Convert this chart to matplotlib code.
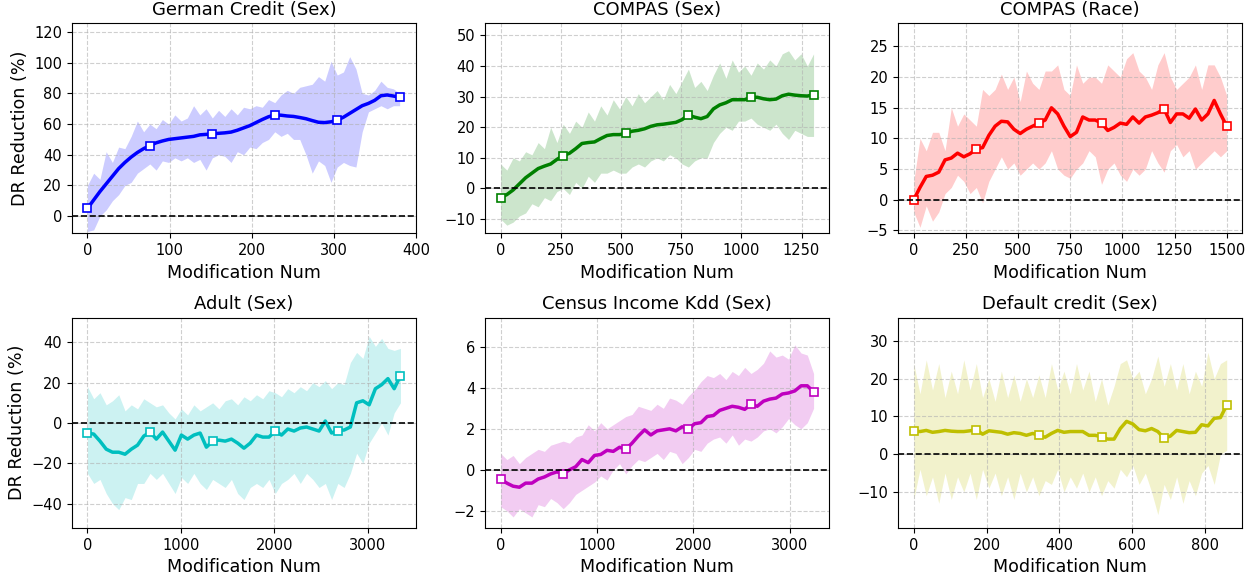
import numpy as np
import matplotlib
matplotlib.use("Agg")
import matplotlib.pyplot as plt

# ---- data (51 samples per panel, markers every 10th) ----
titles = ["German Credit (Sex)", "COMPAS (Sex)", "COMPAS (Race)",
          "Adult (Sex)", "Census Income Kdd (Sex)", "Default credit (Sex)"]
colors = ["b", "g", "r", "c", "m", "y"]
n_mods = [380, 1300, 1500, 3350, 3250, 860]

german_mean = [5, 10.5, 16, 21, 26, 31, 35, 38.5, 41.5, 44, 46, 47.8, 49, 50, 50.5, 51, 51.5, 52, 53, 53.3,
               53.7, 54, 54.3, 54.8, 56, 57.5, 59, 61, 63, 64.8, 66, 65.8, 65.3, 65, 64.3, 63.5, 62.3, 61.2,
               61, 61.5, 62.5, 64.5, 67, 69.5, 72, 73.5, 75.5, 78.5, 79, 78.3, 77.5]
german_hi = [20, 28, 24, 42, 35, 45, 44, 52, 62, 55, 60, 57, 63, 60, 66, 62, 64, 72, 66, 70,
             64, 69, 65, 70, 66, 71, 70, 72, 71, 76, 74, 79, 82, 80, 84, 85, 86, 91, 88, 101,
             92, 94, 104, 96, 80, 79, 82, 88, 84, 83, 80]
german_lo = [-10, -9, 0, 4, 10, 14, 20, 22, 28, 31, 34, 30, 36, 35, 38, 36, 38, 35, 37, 30,
             38, 40, 39, 35, 42, 40, 45, 44, 48, 50, 55, 52, 54, 50, 50, 40, 28, 36, 33, 22,
             32, 35, 33, 32, 55, 68, 70, 72, 70, 72, 72]

compas_sex_mean = [-3, -2, -0.5, 1.5, 3.5, 5, 6.5, 7.3, 8, 9.5, 10.7, 11.5, 13, 14.7, 15, 15.2, 16.3, 17.3,
                   17.6, 17.6, 18, 18.7, 19, 19.5, 20.3, 20.8, 21, 21.3, 21.6, 22.5, 24, 23.3, 22.8, 23.5,
                   26, 27.3, 28, 29, 29, 29, 29.8, 29.8, 29.3, 29, 29.2, 30.3, 30.8, 30.5, 30.3, 30.2, 30.6]
compas_sex_hi = [8, 6, 10, 9, 12, 11, 15, 13, 20, 15, 21, 18, 22, 20, 25, 22, 27, 24, 29, 26,
                 30, 27, 31, 28, 30, 32, 29, 34, 31, 35, 39, 33, 35, 32, 37, 41, 36, 42, 38, 40,
                 37, 41, 39, 42, 40, 44, 45, 42, 44, 40, 44]
compas_sex_lo = [-10, -12, -11, -9, -8, -5, -6, -3, -4, -1, 0, -2, 2, 0, 4, 2, 5, 5, 6, 5,
                 5, 7, 8, 7, 9, 10, 9, 11, 10, 8, 7, 9, 10, 10, 15, 18, 20, 19, 22, 22,
                 23, 21, 20, 19, 21, 18, 16, 19, 18, 17, 17]

compas_race_mean = [0, 2, 3.8, 4, 4.5, 6.5, 6.8, 7.6, 7, 7.5, 8.3, 8.5, 10.5, 12, 12.8, 12.7, 11.5, 10.8,
                    11.5, 12, 12.5, 13, 15, 14, 12, 10.3, 11, 13.5, 13, 13, 12.5, 11.3, 11.8, 12.5, 12.3,
                    13.5, 12.5, 13.5, 13.8, 14.2, 14.8, 12.6, 14, 14, 13.3, 14.8, 13, 14, 16.2, 14, 12]
compas_race_hi = [3, 10, 8, 11, 11, 8, 15, 12, 14, 13, 12, 18, 17, 18, 20.5, 18, 20, 16, 21, 19,
                  18, 21, 21, 22, 18, 17, 22, 19, 20, 20, 19, 22, 21, 20, 23, 24, 21, 20, 18, 22,
                  24, 20, 18, 19, 20, 22, 18, 22, 22, 20, 17]
compas_race_lo = [-2, -4.5, -1, -3.5, -2, 1, 2, 4, 3, 1, 2, -0.5, 3, 5, 7, 5, 6, 4, 5, 6,
                  5, 6, 8, 5, 4, 3.5, 5, 6, 8, 7, 2.5, 5, 6, 4, 3, 5, 4, 5, 8, 6,
                  4.5, 8, 9, 7, 8, 5, 6, 7, 8, 7, 8]

adult_mean = [-5, -5.5, -9, -13, -14.5, -14.5, -15.5, -13, -11, -6.5, -4.5, -8, -4.5, -9, -13.5, -6, -8,
              -6, -5, -12, -9, -8.5, -9, -8, -10, -12.5, -10, -6, -7, -7, -4, -6, -3, -4, -2.5, -2, -3,
              -4, 1, -5, -3.8, -3.5, -2, 10, 11, 9, 17, 19, 22, 17, 23.5]
adult_hi = [18, 12, 15, 9, 11, 14, 6, 9, 7, 12, 10, 8, 9, 5, 2, 7, 4, 9, 6, 8,
            10, 7, 11, 12, 9, 13, 11, 14, 12, 16, 15, 13, 17, 15, 18, 16, 20, 18, 21, 17,
            20, 19, 30, 35, 32, 43, 38, 42, 37, 36, 37]
adult_lo = [-25, -30, -28, -35, -40, -43, -37, -38, -30, -30, -25, -28, -25, -30, -35, -27, -30, -25, -30, -33,
            -28, -30, -32, -28, -35, -38, -32, -30, -32, -28, -35, -30, -28, -25, -30, -25, -28, -32, -30, -38,
            -30, -32, -25, -15, -20, -10, -5, 0, -6, 5, 10]

census_mean = [-0.45, -0.65, -0.8, -0.85, -0.65, -0.65, -0.45, -0.35, -0.2, -0.1, -0.2, 0, 0.15, 0.5, 0.35,
               0.7, 0.75, 0.95, 0.9, 1.1, 1.0, 1.3, 1.65, 1.95, 1.7, 1.9, 1.95, 2.0, 1.9, 2.1, 2.0, 2.25,
               2.3, 2.6, 2.65, 2.9, 3.0, 3.1, 3.05, 2.95, 3.2, 3.1, 3.35, 3.45, 3.5, 3.7, 3.75, 3.85, 4.1,
               4.1, 3.8]
census_hi = [0.8, 0.5, 0.7, 0.3, 0.6, 0.8, 1.0, 0.9, 1.2, 1.3, 1.4, 1.3, 1.6, 1.7, 2.2, 1.9, 2.3, 2.0, 2.2, 2.4,
             2.6, 2.7, 3.1, 3.0, 2.9, 3.2, 3.0, 3.5, 3.4, 3.2, 3.6, 3.9, 4.3, 4.6, 4.5, 4.7, 4.4, 4.8, 4.6, 5.0,
             4.7, 4.9, 5.2, 5.8, 5.5, 5.6, 5.4, 6.1, 5.7, 5.6, 4.7]
census_lo = [-1.8, -2.0, -2.3, -1.9, -2.1, -2.3, -1.7, -1.8, -1.4, -1.6, -1.9, -1.6, -1.2, -1.0, -0.8, -0.6, -0.3,
             -0.5, 0.0, 0.3, -0.2, 0.2, 0.5, 0.4, 0.6, 0.8, 0.5, 0.9, 0.8, 0.3, 0.6, 1.0, 0.9, 1.3, 1.5, 1.6,
             1.3, 1.7, 1.2, 1.5, 1.4, 1.6, 1.9, 2.0, 1.8, 2.1, 2.5, 2.2, 2.0, 2.3, 3.0]

default_mean = [6.2, 6.0, 6.3, 5.8, 6.0, 6.3, 6.1, 6.0, 6.0, 6.2, 6.5, 5.3, 6.2, 6.0, 5.8, 5.3, 5.7, 5.5, 5.0,
                5.5, 5.0, 4.5, 5.5, 6.3, 5.8, 6.0, 6.0, 6.0, 5.0, 5.0, 4.6, 4.0, 4.0, 6.8, 8.7, 8.0, 6.5,
                6.2, 6.8, 6.0, 4.2, 4.8, 6.3, 6.0, 5.7, 5.8, 7.8, 7.5, 9.5, 9.7, 13.0]
default_hi = [24, 16, 25, 17, 24, 15, 22, 16, 25, 17, 24, 15, 20, 14, 22, 15, 21, 14, 20, 15,
              21, 15, 24, 17, 22, 16, 24, 17, 22, 14, 20, 13, 18, 24, 25, 20, 22, 16, 20, 26,
              18, 24, 17, 24, 16, 22, 18, 27, 20, 24, 25]
default_lo = [-12, -4, -11, -6, -13, -5, -12, -6, -10, -5, -12, -4, -9, -5, -11, -6, -12, -5, -10, -6,
              -11, -7, -8, -4, -10, -6, -9, -5, -10, -6, -11, -7, -9, -4, -6, -3, -8, -5, -10, -16,
              -8, -12, -6, -13, -7, -11, -5, -3, -8, 0, 1]

means = [german_mean, compas_sex_mean, compas_race_mean, adult_mean, census_mean, default_mean]
highs = [german_hi, compas_sex_hi, compas_race_hi, adult_hi, census_hi, default_hi]
lows = [german_lo, compas_sex_lo, compas_race_lo, adult_lo, census_lo, default_lo]

ylims = [(-11.3, 125.8), (-14.7, 54), (-5.5, 28.8), (-52, 52.3), (-2.83, 7.43), (-19.5, 36.2)]
yticks = [np.arange(0, 121, 20), np.arange(-10, 51, 10), np.arange(-5, 26, 5),
          np.arange(-40, 41, 20), np.arange(-2, 7, 2), np.arange(-10, 31, 10)]
xticks = [np.arange(0, 401, 100), np.arange(0, 1251, 250), np.arange(0, 1501, 250),
          np.arange(0, 3001, 1000), np.arange(0, 3001, 1000), np.arange(0, 801, 200)]

fig, axes = plt.subplots(2, 3, figsize=(12.6, 5.8), dpi=100)
fig.subplots_adjust(left=0.057, right=0.986, top=0.960, bottom=0.090, wspace=0.2, hspace=0.4)

for i, ax in enumerate(axes.flat):
    x = np.linspace(0, n_mods[i], len(means[i]))
    c = colors[i]
    ax.fill_between(x, lows[i], highs[i], color=c, alpha=0.2, linewidth=0)
    ax.plot(x, means[i], color=c, lw=2.5, marker="s", markevery=10,
            markersize=6, markerfacecolor="white", markeredgecolor=c, markeredgewidth=1.2)
    ax.axhline(0, color="k", ls="--", lw=1.2)
    ax.grid(True, ls="--", alpha=0.6)
    ax.set_ylim(*ylims[i])
    ax.set_yticks(yticks[i])
    ax.set_xticks(xticks[i])
    ax.set_title(titles[i], fontsize=13)
    ax.set_xlabel("Modification Num", fontsize=12.6)
    ax.tick_params(labelsize=10.5)
    if i % 3 == 0:
        ax.set_ylabel("DR Reduction (%)", fontsize=12.6)

plt.savefig("out.png")
